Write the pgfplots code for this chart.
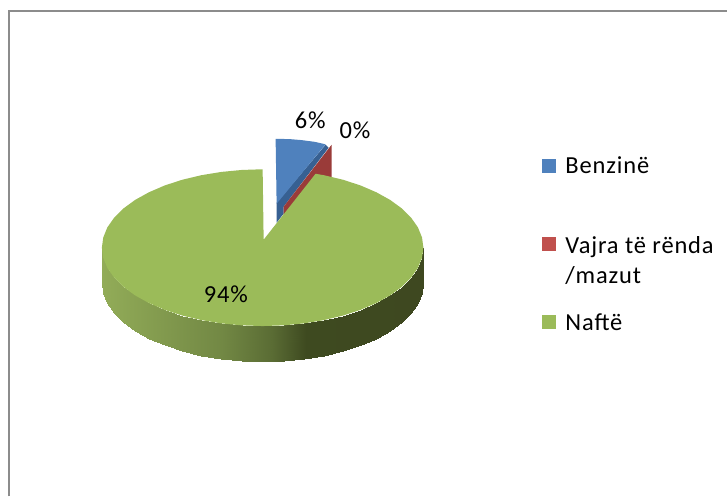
\documentclass[border=0pt]{standalone}
\usepackage{fontspec}
\setmainfont[LetterSpace=3.5]{Carlito}
\usepackage{pgfplots}
\pgfplotsset{compat=1.18}
\definecolor{benz}{HTML}{4F81BD}
\definecolor{benzdark}{HTML}{376092}
\definecolor{vajra}{HTML}{C0504D}
\definecolor{vajradark}{HTML}{9A3B39}
\definecolor{nafte}{HTML}{9BBB59}
\definecolor{frame}{HTML}{8C8C8C}
\pgfplotsset{colormap={side}{rgb255(0)=(146,172,88) rgb255(120)=(114,136,68) rgb255(170)=(90,108,52) rgb255(205)=(62,74,32) rgb255(322)=(62,72,32)}}
\tikzset{lab/.style={anchor=base west, inner sep=0pt, text=black, font=\fontsize{24.5}{28}\selectfont}}
\begin{document}
\begin{tikzpicture}
\begin{axis}[
  scale only axis,
  width=728pt, height=497pt,
  xmin=0, xmax=728, ymin=0, ymax=497,
  y dir=reverse,
  hide axis,
  clip=false,
  colormap name=side,
]
% keeps the page as large as the whole chart area
\addplot[draw=none] coordinates {(0,0) (728,497)};
% chart frame, left and top only
\addplot[frame, line width=2pt] coordinates {(9,497) (9,11) (728,11)};

% 6% slice
\addplot[fill=benzdark, draw=none] coordinates {(326,145) (277,203) (277,223) (284,214) (284,207) (329,148)} -- cycle;
\addplot[fill=benz, draw=none] coordinates {(276,139) (290,139.3) (302,140.3) (315,142) (326,144.5) (277,204)} -- cycle;
% 0% slice
\addplot[fill=vajradark, draw=none] coordinates {(332,145) (332,180) (284,225) (284,207)} -- cycle;

% 94% slice, side
\addplot[surf, shader=interp, mesh/cols=25, point meta=x] table {
x y
102 248
103.4 258.2
107.5 268.3
114.3 278
123.6 287.25
135.3 295.8
149.2 303.5
165 310.3
182.5 316
201.4 320.5
221.3 323.8
242 325.8
263 326.5
284 325.8
304.7 323.8
324.6 320.5
343.5 316
361 310.3
376.8 303.5
390.7 295.8
402.4 287.25
411.7 278
418.5 268.3
422.6 258.2
424 248
102 283.5
103.4 293.7
107.5 303.8
114.3 313.5
123.6 322.75
135.3 331.3
149.2 339
165 345.8
182.5 351.5
201.4 356
221.3 359.3
242 361.3
263 362
284 361.3
304.7 359.3
324.6 356
343.5 351.5
361 345.8
376.8 339
390.7 331.3
402.4 322.75
411.7 313.5
418.5 303.8
422.6 293.7
424 283.5
};
% 94% slice, top
\addplot[fill=nafte, draw=none] coordinates {
(264,240) (316,174) (324.6,175.5) (343.5,180) (361,185.7) (376.8,192.5) (390.7,200.2) (402.4,208.75)
(411.7,218) (418.5,227.7) (422.6,237.8) (424,248) (422.6,258.2) (418.5,268.3) (411.7,278) (402.4,287.25)
(390.7,295.8) (376.8,303.5) (361,310.3) (343.5,316) (324.6,320.5) (304.7,323.8) (284,325.8) (263,326.5)
(242,325.8) (221.3,323.8) (201.4,320.5) (182.5,316) (165,310.3) (149.2,303.5) (135.3,295.8) (123.6,287.25)
(114.3,278) (107.5,268.3) (103.4,258.2) (102,248) (103.4,237.8) (107.5,227.7) (114.3,218) (123.6,208.75)
(135.3,200.2) (149.2,192.5) (165,185.7) (182.5,180) (201.4,175.5) (221.3,172.2) (242,170.2) (263,169.5)
} -- cycle;

% value labels
\node[lab] at (axis cs:295,128.5) {6\%};
\node[lab] at (axis cs:340,138.5) {0\%};
\node[lab] at (axis cs:204,302.5) {94\%};

% legend
\addplot[fill=benz, draw=none] coordinates {(543,159) (557,159) (557,173) (543,173)} -- cycle;
\addplot[fill=vajra, draw=none] coordinates {(543,237) (557,237) (557,251) (543,251)} -- cycle;
\addplot[fill=nafte, draw=none] coordinates {(543,315) (557,315) (557,329) (543,329)} -- cycle;
\node[lab] at (axis cs:566,173.5) {Benzinë};
\node[lab] at (axis cs:566,253.5) {Vajra të rënda};
\node[lab] at (axis cs:566,284) {/mazut};
\node[lab] at (axis cs:566,330.5) {Naftë};
\end{axis}
\end{tikzpicture}
\end{document}
